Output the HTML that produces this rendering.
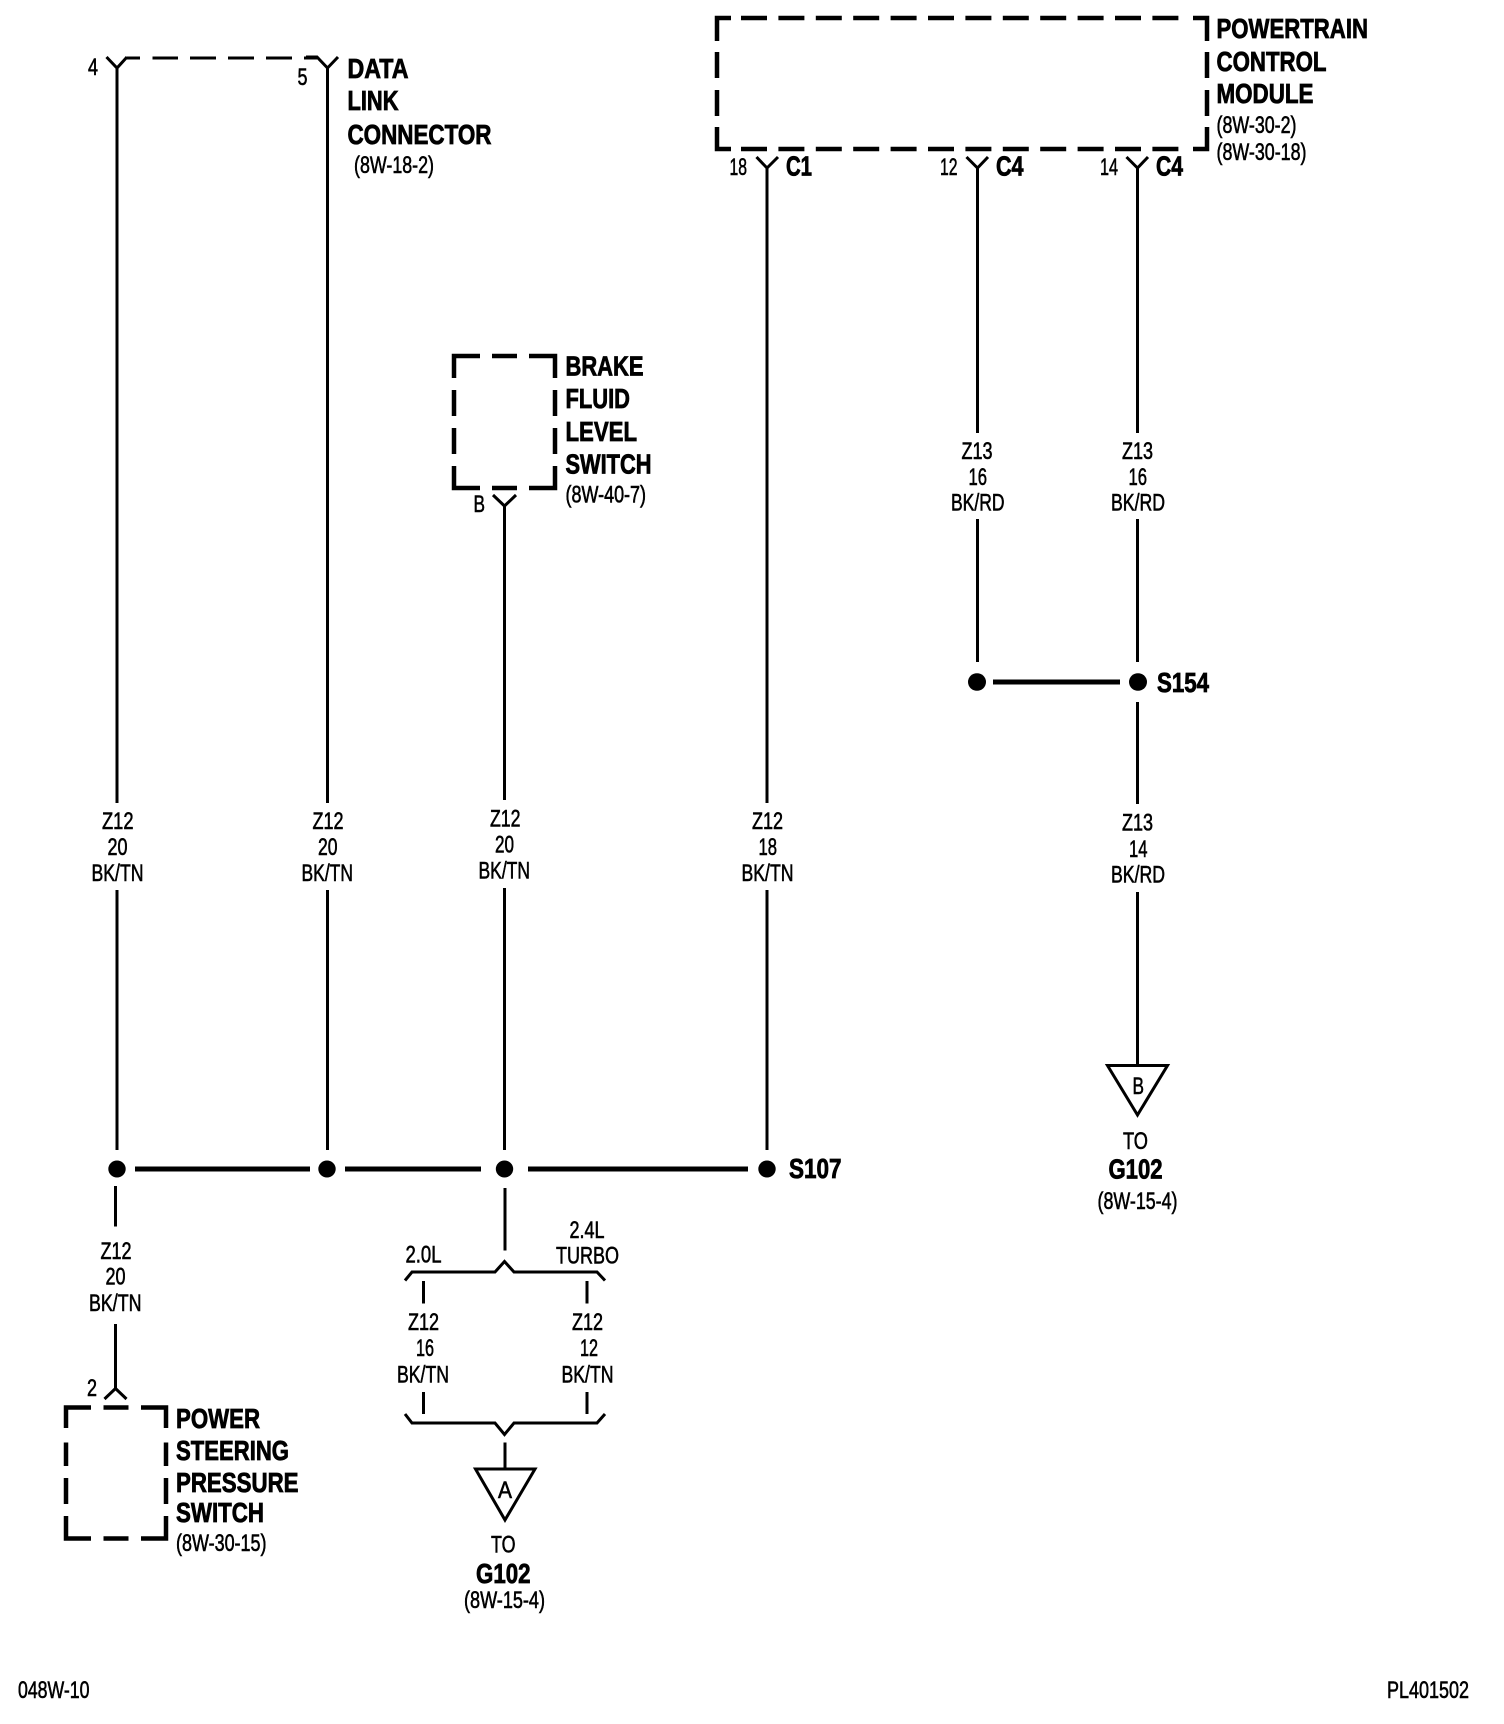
<!DOCTYPE html>
<html>
<head>
<meta charset="utf-8">
<style>
html,body{margin:0;padding:0;background:#fff}
svg{display:block}
text{font-family:"Liberation Sans",sans-serif;fill:#000}
.r{font-size:24px;stroke:#000;stroke-width:.6px}
.b{font-size:27.5px;font-weight:bold;stroke:#000;stroke-width:.8px}
.w{fill:none;stroke:#000;stroke-width:3}
.t{fill:none;stroke:#000;stroke-width:3}
.d{fill:none;stroke:#000;stroke-width:4.5}
.bus{fill:none;stroke:#000;stroke-width:5}
</style>
</head>
<body>
<svg xmlns="http://www.w3.org/2000/svg" width="1504" height="1724" viewBox="0 0 1504 1724">
<rect width="1504" height="1724" fill="#fff"/>

<!-- Data link connector -->
<path class="w" d="M106.5,57 L117,68 L127,57 M306,57 L317,57 L327.5,68 L338,57"/>
<path class="w" d="M127,58H140 M152.5,58H178 M190,58H216 M228,58H254 M266,58H292 M304,58H317"/>
<path class="w" d="M117,68V803 M117,890V1150 M327.5,68V803 M327.5,890V1150"/>
<text class="r" x="88" y="75" textLength="10" lengthAdjust="spacingAndGlyphs">4</text>
<text class="r" x="297.5" y="85" textLength="10" lengthAdjust="spacingAndGlyphs">5</text>
<text class="b" x="347.5" y="78" textLength="61" lengthAdjust="spacingAndGlyphs">DATA</text>
<text class="b" x="347.5" y="110" textLength="51" lengthAdjust="spacingAndGlyphs">LINK</text>
<text class="b" x="347.5" y="144" textLength="144" lengthAdjust="spacingAndGlyphs">CONNECTOR</text>
<text class="r" x="354" y="173" textLength="80" lengthAdjust="spacingAndGlyphs">(8W-18-2)</text>

<!-- PCM -->
<path class="d" d="M717,41V18H731 M741,18H767 M778.4,18H804.4 M815.8,18H841.8 M853.2,18H879.2 M890.6,18H916.6 M928,18H954 M965.4,18H991.4 M1002.8,18H1028.8 M1040.2,18H1066.2 M1077.6,18H1103.6 M1115,18H1141 M1152.4,18H1178.4 M1193,18H1207V41 M717,52V78 M717,90V116 M1207,52V78 M1207,90V116 M717,127V149H731 M741,149H767 M778.4,149H804.4 M815.8,149H841.8 M853.2,149H879.2 M890.6,149H916.6 M928,149H954 M965.4,149H991.4 M1002.8,149H1028.8 M1040.2,149H1066.2 M1077.6,149H1103.6 M1115,149H1141 M1152.4,149H1178.4 M1193,149H1207V127"/>
<text class="b" x="1216.5" y="38" textLength="151.5" lengthAdjust="spacingAndGlyphs">POWERTRAIN</text>
<text class="b" x="1216.5" y="71" textLength="110" lengthAdjust="spacingAndGlyphs">CONTROL</text>
<text class="b" x="1216.5" y="103" textLength="97" lengthAdjust="spacingAndGlyphs">MODULE</text>
<text class="r" x="1216.5" y="133" textLength="80" lengthAdjust="spacingAndGlyphs">(8W-30-2)</text>
<text class="r" x="1216.5" y="160" textLength="90" lengthAdjust="spacingAndGlyphs">(8W-30-18)</text>

<path class="w" d="M756.5,157L767,168L778,157 M767,168V803 M767,890V1150"/>
<path class="w" d="M966.5,157L977.5,168L988,157 M977.5,168V433 M977.5,519V662"/>
<path class="w" d="M1126.5,157L1137.5,168L1148,157 M1137.5,168V433 M1137.5,519V662 M1137.5,702V804 M1137.5,892V1065"/>
<text class="r" x="729.5" y="175" textLength="17.5" lengthAdjust="spacingAndGlyphs">18</text>
<text class="b" x="786" y="175.5" textLength="26" lengthAdjust="spacingAndGlyphs">C1</text>
<text class="r" x="940" y="175" textLength="17.5" lengthAdjust="spacingAndGlyphs">12</text>
<text class="b" x="996" y="175.5" textLength="27.5" lengthAdjust="spacingAndGlyphs">C4</text>
<text class="r" x="1100" y="175" textLength="18" lengthAdjust="spacingAndGlyphs">14</text>
<text class="b" x="1156" y="175.5" textLength="27" lengthAdjust="spacingAndGlyphs">C4</text>

<!-- Brake fluid -->
<path class="d" d="M454,378V356H480 M492,356H517 M529,356H555V378 M454,390V416 M555,390V416 M454,428V454 M555,428V454 M454,466V488H480 M492,488H517 M529,488H555V466"/>
<text class="b" x="565.5" y="375.5" textLength="78" lengthAdjust="spacingAndGlyphs">BRAKE</text>
<text class="b" x="565.5" y="408" textLength="64.5" lengthAdjust="spacingAndGlyphs">FLUID</text>
<text class="b" x="565.5" y="441" textLength="71.5" lengthAdjust="spacingAndGlyphs">LEVEL</text>
<text class="b" x="565.5" y="473.5" textLength="86" lengthAdjust="spacingAndGlyphs">SWITCH</text>
<text class="r" x="565.5" y="502.5" textLength="80.5" lengthAdjust="spacingAndGlyphs">(8W-40-7)</text>
<text class="r" x="473.5" y="512" textLength="11.5" lengthAdjust="spacingAndGlyphs">B</text>
<path class="w" d="M493,495L504.5,506L516,495 M504.5,506V800 M504.5,888V1150"/>

<!-- Wire labels -->
<text class="r" x="102" y="829" textLength="31.5" lengthAdjust="spacingAndGlyphs">Z12</text>
<text class="r" x="107.5" y="855" textLength="20" lengthAdjust="spacingAndGlyphs">20</text>
<text class="r" x="91.5" y="881" textLength="52" lengthAdjust="spacingAndGlyphs">BK/TN</text>
<text class="r" x="312.5" y="829" textLength="31" lengthAdjust="spacingAndGlyphs">Z12</text>
<text class="r" x="318" y="855" textLength="19.5" lengthAdjust="spacingAndGlyphs">20</text>
<text class="r" x="301.5" y="881" textLength="51.5" lengthAdjust="spacingAndGlyphs">BK/TN</text>
<text class="r" x="490" y="826.5" textLength="30.5" lengthAdjust="spacingAndGlyphs">Z12</text>
<text class="r" x="495" y="852.5" textLength="19" lengthAdjust="spacingAndGlyphs">20</text>
<text class="r" x="478.5" y="878.5" textLength="51.5" lengthAdjust="spacingAndGlyphs">BK/TN</text>
<text class="r" x="752" y="829" textLength="31" lengthAdjust="spacingAndGlyphs">Z12</text>
<text class="r" x="758.5" y="855" textLength="18.5" lengthAdjust="spacingAndGlyphs">18</text>
<text class="r" x="741.5" y="881" textLength="52" lengthAdjust="spacingAndGlyphs">BK/TN</text>

<text class="r" x="961.5" y="459" textLength="31" lengthAdjust="spacingAndGlyphs">Z13</text>
<text class="r" x="968.5" y="485" textLength="18.5" lengthAdjust="spacingAndGlyphs">16</text>
<text class="r" x="951" y="510.5" textLength="53.5" lengthAdjust="spacingAndGlyphs">BK/RD</text>
<text class="r" x="1122" y="459" textLength="31" lengthAdjust="spacingAndGlyphs">Z13</text>
<text class="r" x="1128.5" y="485" textLength="18.5" lengthAdjust="spacingAndGlyphs">16</text>
<text class="r" x="1111" y="510.5" textLength="54" lengthAdjust="spacingAndGlyphs">BK/RD</text>
<text class="r" x="1122" y="830.5" textLength="31" lengthAdjust="spacingAndGlyphs">Z13</text>
<text class="r" x="1129" y="857" textLength="18.5" lengthAdjust="spacingAndGlyphs">14</text>
<text class="r" x="1111" y="882.5" textLength="54" lengthAdjust="spacingAndGlyphs">BK/RD</text>

<!-- S154 -->
<ellipse cx="977" cy="682" rx="9" ry="8.8"/>
<ellipse cx="1138" cy="682" rx="9" ry="8.8"/>
<path class="bus" d="M993,682H1120"/>
<text class="b" x="1157" y="692" textLength="52" lengthAdjust="spacingAndGlyphs">S154</text>

<!-- Ground B -->
<path class="t" d="M1107.5,1065.5H1167.5L1137.5,1115Z"/>
<text class="r" x="1132.5" y="1094" textLength="11.5" lengthAdjust="spacingAndGlyphs">B</text>
<text class="r" x="1123" y="1149" textLength="25" lengthAdjust="spacingAndGlyphs">TO</text>
<text class="b" x="1108.5" y="1178.5" textLength="54" lengthAdjust="spacingAndGlyphs">G102</text>
<text class="r" x="1097.5" y="1209" textLength="80" lengthAdjust="spacingAndGlyphs">(8W-15-4)</text>

<!-- S107 bus -->
<ellipse cx="117" cy="1169" rx="8.7" ry="8.5"/>
<ellipse cx="327" cy="1169" rx="8.7" ry="8.5"/>
<ellipse cx="504.5" cy="1169" rx="8.7" ry="8.5"/>
<ellipse cx="767" cy="1169" rx="8.7" ry="8.5"/>
<path class="bus" d="M135,1169H310 M345,1169H481 M528,1169H748"/>
<text class="b" x="789" y="1178" textLength="52.5" lengthAdjust="spacingAndGlyphs">S107</text>

<!-- Power steering -->
<path class="w" d="M115.5,1186V1226.5 M115.5,1324V1388.5 M104.5,1399L115.5,1388.5L126.5,1399"/>
<text class="r" x="100.5" y="1259" textLength="31" lengthAdjust="spacingAndGlyphs">Z12</text>
<text class="r" x="105.5" y="1284.5" textLength="20" lengthAdjust="spacingAndGlyphs">20</text>
<text class="r" x="89" y="1311" textLength="52.5" lengthAdjust="spacingAndGlyphs">BK/TN</text>
<text class="r" x="87" y="1396" textLength="10" lengthAdjust="spacingAndGlyphs">2</text>
<path class="d" d="M66,1428V1407.5H91 M103.5,1407.5H128.5 M141,1407.5H166V1428 M66,1442.5V1466 M166,1442.5V1466 M66,1478V1504 M166,1478V1504 M66,1516V1538.5H91 M103.5,1538.5H128.5 M141,1538.5H166V1516"/>
<text class="b" x="176" y="1428" textLength="84" lengthAdjust="spacingAndGlyphs">POWER</text>
<text class="b" x="176" y="1460" textLength="113" lengthAdjust="spacingAndGlyphs">STEERING</text>
<text class="b" x="176" y="1492" textLength="122.5" lengthAdjust="spacingAndGlyphs">PRESSURE</text>
<text class="b" x="176" y="1522" textLength="88" lengthAdjust="spacingAndGlyphs">SWITCH</text>
<text class="r" x="176" y="1551" textLength="90.5" lengthAdjust="spacingAndGlyphs">(8W-30-15)</text>

<!-- Fork -->
<path class="w" d="M505,1188V1250.5"/>
<path class="w" d="M405,1280.5L412,1272H495L504.5,1261.5L514,1272H597L605,1280.5"/>
<path class="w" d="M423.5,1281V1303.5 M587,1281V1303.5 M423.5,1392V1414 M587,1392V1414"/>
<path class="w" d="M405,1414L412,1423H495L504.5,1434.5L514,1423H597L605,1414"/>
<text class="r" x="405.5" y="1262.5" textLength="36" lengthAdjust="spacingAndGlyphs">2.0L</text>
<text class="r" x="569.5" y="1238" textLength="35" lengthAdjust="spacingAndGlyphs">2.4L</text>
<text class="r" x="556" y="1263.5" textLength="63" lengthAdjust="spacingAndGlyphs">TURBO</text>
<text class="r" x="408" y="1330" textLength="31" lengthAdjust="spacingAndGlyphs">Z12</text>
<text class="r" x="416" y="1356" textLength="18" lengthAdjust="spacingAndGlyphs">16</text>
<text class="r" x="397" y="1382.5" textLength="52" lengthAdjust="spacingAndGlyphs">BK/TN</text>
<text class="r" x="572" y="1330" textLength="31" lengthAdjust="spacingAndGlyphs">Z12</text>
<text class="r" x="580" y="1356" textLength="18" lengthAdjust="spacingAndGlyphs">12</text>
<text class="r" x="561.5" y="1382.5" textLength="52" lengthAdjust="spacingAndGlyphs">BK/TN</text>

<!-- Ground A -->
<path class="w" d="M505,1442.5V1469"/>
<path class="t" d="M475.5,1469H535L505,1520Z"/>
<text class="r" x="498" y="1498" textLength="14" lengthAdjust="spacingAndGlyphs">A</text>
<text class="r" x="491" y="1552.5" textLength="24.5" lengthAdjust="spacingAndGlyphs">TO</text>
<text class="b" x="476" y="1583" textLength="54.5" lengthAdjust="spacingAndGlyphs">G102</text>
<text class="r" x="464" y="1608" textLength="81" lengthAdjust="spacingAndGlyphs">(8W-15-4)</text>

<!-- Footer -->
<text class="r" x="18" y="1698" textLength="71.5" lengthAdjust="spacingAndGlyphs">048W-10</text>
<text class="r" x="1387" y="1698" textLength="82" lengthAdjust="spacingAndGlyphs">PL401502</text>
</svg>
</body>
</html>
